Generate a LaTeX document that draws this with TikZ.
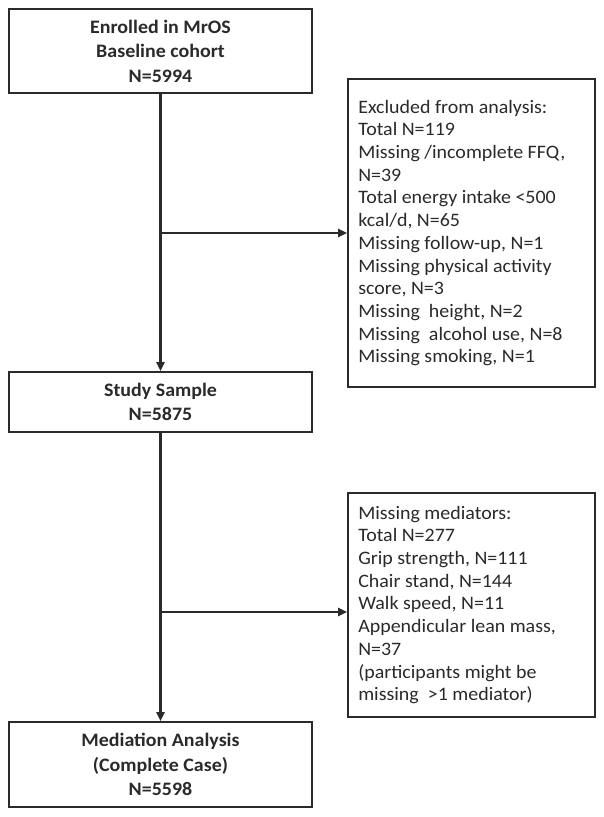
\documentclass[tikz,border=0pt]{standalone}
\usepackage{fontspec}
\setmainfont{Carlito}[FakeStretch=1.05]
\usetikzlibrary{arrows.meta}
\definecolor{ink}{HTML}{2A2A2A}
\begin{document}
\begin{tikzpicture}[x=1pt,y=-1pt,
  mainbox/.style={draw=ink, line width=1.8pt, minimum width=303pt, inner sep=0pt,
    align=center, text=ink, font=\bfseries\fontsize{19}{24.5}\selectfont},
  sidebox/.style={draw=ink, line width=1.8pt, minimum width=247pt, inner sep=0pt},
  sidetext/.style={anchor=west, inner sep=0pt, align=left, text=ink,
    font=\fontsize{19}{22.7}\selectfont},
  flow/.style={draw=ink, line width=2.4pt},
  arr/.style={flow, -{Triangle[length=9pt,width=8pt]}}]
\useasboundingbox (0,0) rectangle (604,817);
\fill[white] (0,0) rectangle (604,817);

\node[mainbox, minimum height=84pt] (top) at (160.5,51) {Enrolled in MrOS\\Baseline cohort\\N=5994};
\node[mainbox, minimum height=60pt] (study) at (160.5,402) {Study Sample\\N=5875};
\node[mainbox, minimum height=85pt] (med) at (160.5,764.5) {Mediation Analysis\\(Complete Case)\\N=5598};

\node[sidebox, minimum height=308pt] (excl) at (471.5,233) {};
\node[sidetext] (excltext) at ([xshift=11pt]excl.west) {Excluded from analysis:\\Total N=119\\Missing /incomplete FFQ,\\N=39\\Total energy intake <500\\kcal/d, N=65\\Missing follow-up, N=1\\Missing physical activity\\score, N=3\\Missing\ \ height, N=2\\Missing\ \ alcohol use, N=8\\Missing smoking, N=1};

\node[sidebox, minimum height=224pt] (miss) at (471.5,605) {};
\node[sidetext] (misstext) at ([xshift=11pt]miss.west) {Missing mediators:\\Total N=277\\Grip strength, N=111\\Chair stand, N=144\\Walk speed, N=11\\Appendicular lean mass,\\N=37\\(participants might be\\missing\ \ >1 mediator)};

\coordinate (j1) at (top.south |- excl.west);
\coordinate (j2) at (160.5,612);

\draw[arr] (top.south) -- (study.north);
\draw[arr] (j1) -- (excl.west);
\draw[arr] (study.south) -- (med.north);
\draw[arr] (j2) -- (j2 -| miss.west);
\end{tikzpicture}
\end{document}
